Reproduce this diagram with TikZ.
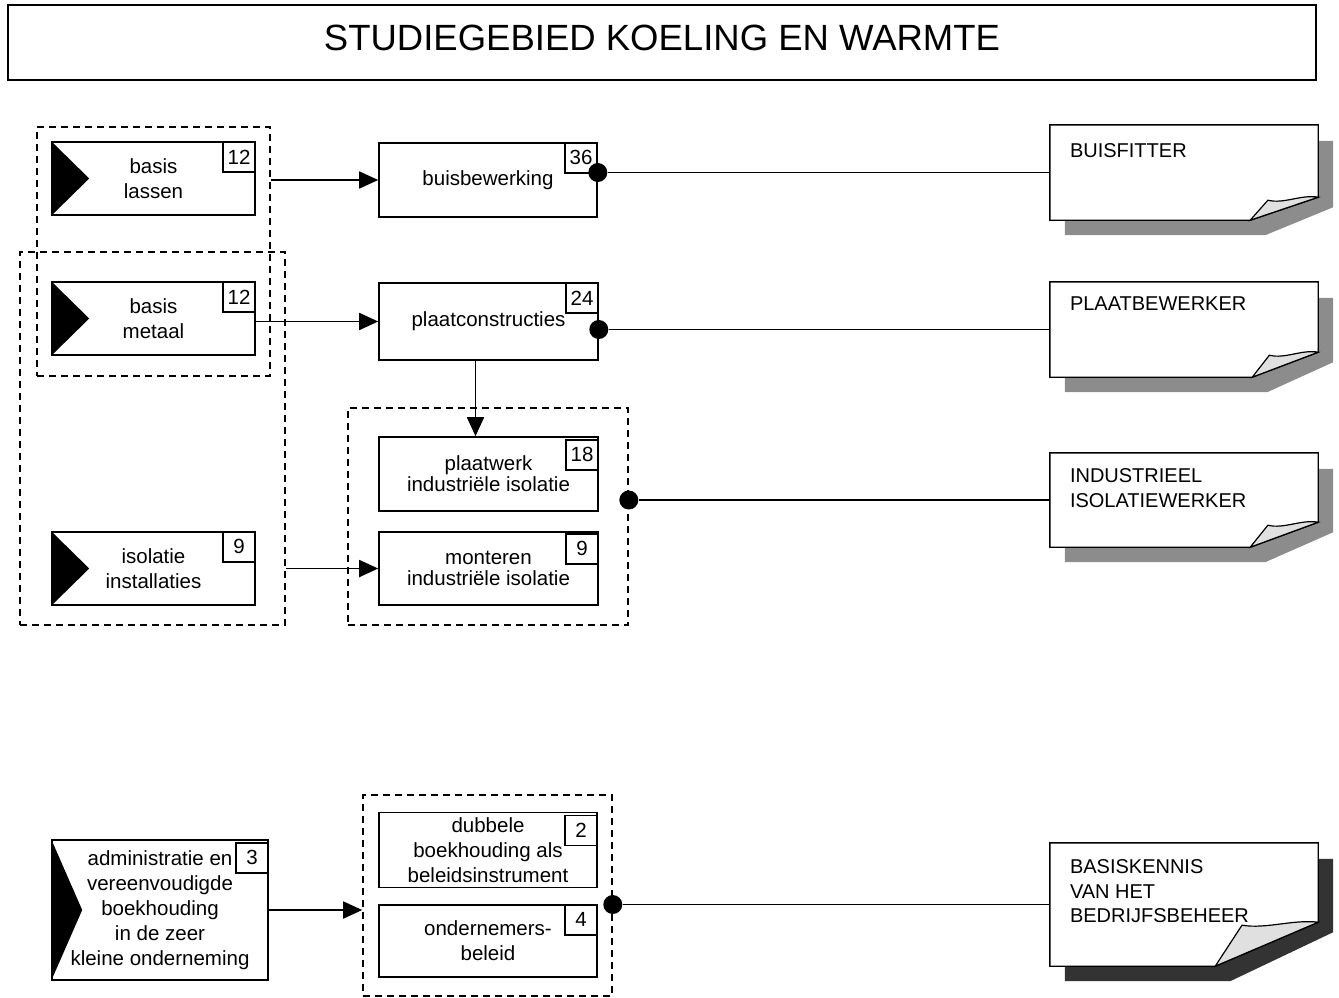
\documentclass[tikz,border=0pt]{standalone}
\usepackage{fontspec}
\setmainfont{Liberation Sans}
\usetikzlibrary{arrows.meta,calc}

\begin{document}
\begin{tikzpicture}[x=1pt,y=-1pt,
    box/.style={draw,line width=1.6pt,fill=white,align=center,inner sep=0pt,
      font=\fontsize{20.5}{25}\selectfont},
    tightbox/.style={box,font=\fontsize{20.5}{21}\selectfont},
    numbox/.style={draw,line width=1.4pt,fill=white,anchor=north east,inner sep=0pt,
      minimum width=32,minimum height=30,font=\fontsize{20.5}{24}\selectfont},
    group/.style={draw,dash pattern=on 7pt off 5pt,line width=1.6pt,inner sep=0pt},
    flow/.style={-{Triangle[length=19pt,width=17pt]},line width=1.8pt},
    link/.style={line width=1.8pt},
    dot/.style={circle,fill=black,inner sep=0pt,minimum size=19},
    page/.style={inner sep=0pt,minimum width=268},
    pagetext/.style={anchor=north west,inner sep=0pt,align=left,
      font=\fontsize{20}{24.5}\selectfont}]
\useasboundingbox (0,0) rectangle (1339,997);

% title
\node[draw,line width=1.4pt,minimum width=1308,minimum height=75,inner sep=0pt,text depth=9pt,
  font=\fontsize{36.5}{40}\selectfont] (title) at (662,42.5) {STUDIEGEBIED KOELING EN WARMTE};

% dashed groups
\node[group,minimum width=233,minimum height=249] (grpA) at (153.5,251.5) {};
\node[group,minimum width=265,minimum height=373] (grpB) at (152.5,438.5) {};
\node[group,minimum width=280,minimum height=217] (grpC) at (488,516.5) {};
\node[group,minimum width=249,minimum height=201] (grpD) at (487.5,895.5) {};

% left column
\node[box,minimum width=203,minimum height=73] (lassen) at (153.5,178.5) {basis\\lassen};
\node[box,minimum width=203,minimum height=73] (metaal) at (153.5,318.5) {basis\\metaal};
\node[box,minimum width=203,minimum height=73] (isol) at (153.5,568.5) {isolatie\\installaties};
\node[box,minimum width=216,minimum height=140] (admin) at (160,910)
  {administratie en\\vereenvoudigde\\boekhouding\\in de zeer\\kleine onderneming};
\foreach \b/\t in {lassen/38,metaal/38,isol/38,admin/31}
  \fill (\b.north west) -- ($(\b.west)+(\t,0)$) -- (\b.south west) -- cycle;

% middle column
\node[box,minimum width=218,minimum height=74] (buis) at (488,180) {buisbewerking};
\node[box,minimum width=219,minimum height=77] (plaat) at (488.5,321.5) {plaatconstructies};
\node[tightbox,minimum width=219,minimum height=74] (plaatwerk) at (488.5,474)
  {plaatwerk\\industriële isolatie};
\node[tightbox,minimum width=219,minimum height=73] (monteren) at (488.5,568.5)
  {monteren\\industriële isolatie};
\node[box,minimum width=218,minimum height=75] (dubbele) at (488,850)
  {dubbele\\boekhouding als\\beleidsinstrument};
\node[box,minimum width=218,minimum height=72] (ondernemers) at (488,941)
  {ondernemers-\\beleid};

% hours
\node[numbox] (lassen-n) at (lassen.north east) {12};
\node[numbox] (metaal-n) at (metaal.north east) {12};
\node[numbox] (isol-n) at (isol.north east) {9};
\node[numbox,yshift=-3pt] (admin-n) at (admin.north east) {3};
\node[numbox] (buis-n) at (buis.north east) {36};
\node[numbox] (plaat-n) at (plaat.north east) {24};
\node[numbox,yshift=-3pt] (plaatwerk-n) at (plaatwerk.north east) {18};
\node[numbox,yshift=-2pt] (monteren-n) at (monteren.north east) {9};
\node[numbox,yshift=-3pt] (dubbele-n) at (dubbele.north east) {2};
\node[numbox] (ondernemers-n) at (ondernemers.north east) {4};

% profiles
\node[page,minimum height=95] (fitter) at (1184,172.5) {};
\node[page,minimum height=95] (plaatbew) at (1184,329.5) {};
\node[page,minimum height=94] (isowerker) at (1184,500) {};
\node[page,minimum height=123] (bedrijf) at (1184,904.5) {};
\foreach \p/\w/\c/\s in {fitter/68/23/45,plaatbew/66/25/45,isowerker/68/25/45,bedrijf/103/44/80}{
  \fill[black!\s] ($(\p.north east)+(0,16)$) -- ++(15,0) -- ($(\p.south east)+(15,-\c+10)$)
    -- ($(\p.south east)+(-\w+15,15)$) -- ($(\p.south west)+(15,15)$)
    -- ($(\p.south west)+(15,0)$) -- cycle;
  \draw[line width=1.4pt,fill=white] (\p.north west) -- (\p.north east)
    -- ($(\p.south east)+(0,-\c)$) -- ($(\p.south east)+(-\w,0)$) -- (\p.south west) -- cycle;
  \draw[line width=1.2pt,fill=black!12] ($(\p.south east)+(-\w,0)$)
    -- ($(\p.south east)+(-0.74*\w,-\c+3)$)
    .. controls ($(\p.south east)+(-0.5*\w,-\c+7)$) and ($(\p.south east)+(-0.25*\w,-\c-3)$)
    .. ($(\p.south east)+(0,-\c)$) -- cycle;
}
\node[pagetext] (fitter-t) at ($(fitter.north west)+(20,19)$) {BUISFITTER};
\node[pagetext] (plaatbew-t) at ($(plaatbew.north west)+(20,15)$) {PLAATBEWERKER};
\node[pagetext] (isowerker-t) at ($(isowerker.north west)+(20,16)$) {INDUSTRIEEL\\ISOLATIEWERKER};
\node[pagetext] (bedrijf-t) at ($(bedrijf.north west)+(20,17)$) {BASISKENNIS\\VAN HET\\BEDRIJFSBEHEER};

% connectors
\draw[flow] (grpA.east |- buis.west) -- (buis.west);
\draw[flow] (metaal.east |- plaat.west) -- (plaat.west);
\draw[flow] (grpB.east |- monteren.west) -- (monteren.west);
\draw[flow] ([xshift=-13pt]plaat.south) -- ([xshift=-13pt]plaatwerk.north);
\draw[flow] (admin.east) -- (grpD.west |- admin.east);

\node[dot] (buis-d) at (buis.east |- fitter.west) {};
\node[dot] (plaat-d) at (plaat.east |- plaatbew.west) {};
\node[dot] (grpC-d) at (grpC.east |- isowerker.west) {};
\node[dot] (grpD-d) at (grpD.east |- bedrijf.west) {};
\draw[link] (buis-d) -- (fitter);
\draw[link] (plaat-d) -- (plaatbew);
\draw[link] (grpC-d) -- (isowerker);
\draw[link] (grpD-d) -- (bedrijf);
\end{tikzpicture}
\end{document}
